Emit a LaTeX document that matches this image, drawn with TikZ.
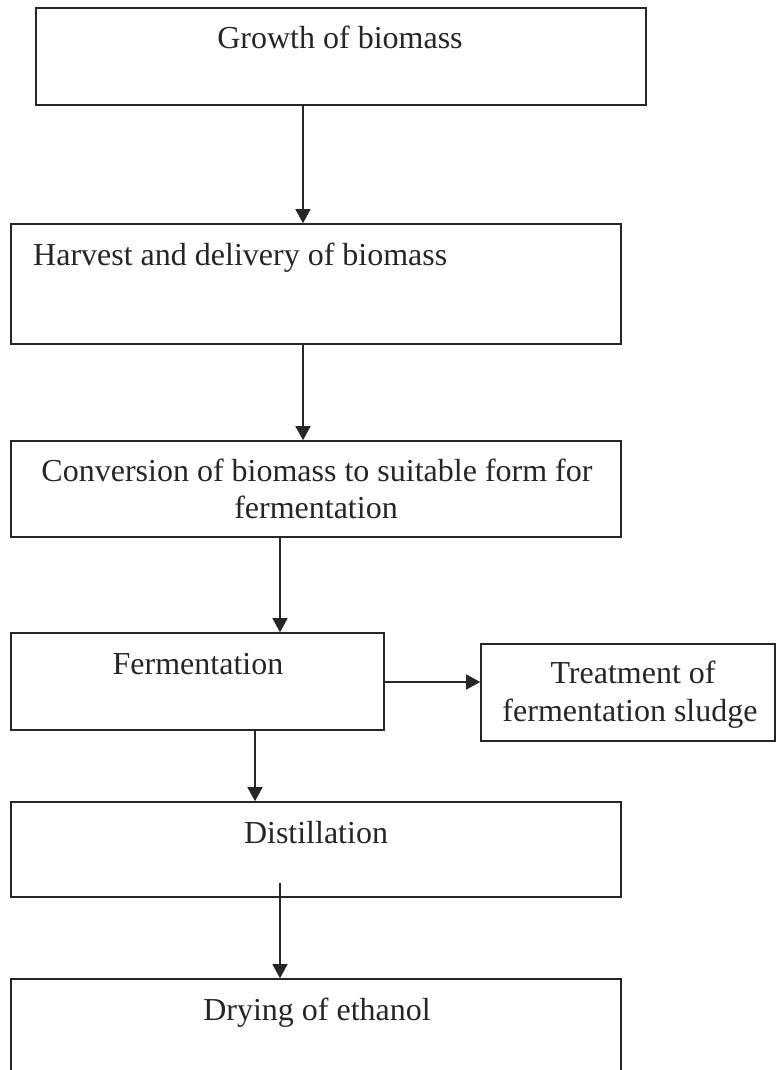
\documentclass[tikz,border=0pt]{standalone}
\usepackage{fontspec}
\setmainfont{Liberation Serif}
\usetikzlibrary{arrows.meta}
\begin{document}
\begin{tikzpicture}[x=1pt,y=-1pt,
  box/.style={draw=black!85, line width=1.6pt, inner sep=0pt, rectangle},
  lbl/.style={inner sep=0pt, anchor=base, text=black!85, font=\fontsize{32}{38}\selectfont},
  arr/.style={draw=black!85, line width=1.4pt, -{Triangle[length=14pt,width=15pt]}}]
\useasboundingbox (0,0) rectangle (777,1070);
\clip (0,0) rectangle (777,1070);
% boxes
\node[box, minimum width=610pt, minimum height=97pt] (b1) at (341,56.5) {};
\node[box, minimum width=610pt, minimum height=120pt] (b2) at (316,284) {};
\node[box, minimum width=610pt, minimum height=96pt] (b3) at (316,489) {};
\node[box, minimum width=373pt, minimum height=97pt] (b4) at (197.5,681.5) {};
\node[box, minimum width=294pt, minimum height=97pt] (b5) at (628,692.5) {};
\node[box, minimum width=610pt, minimum height=95pt] (b6) at (316,849.5) {};
\node[box, minimum width=610pt, minimum height=130pt] (b7) at (316,1044) {};
% texts
\node[lbl] (t1) at (340,49) {Growth of biomass};
\node[lbl, anchor=base west] (t2) at (33,265) {Harvest and delivery of biomass};
\node[lbl] (t3a) at (317,481) {Conversion of biomass to suitable form for};
\node[lbl] (t3b) at (316,518) {fermentation};
\node[lbl] (t4) at (198,674) {Fermentation};
\node[lbl] (t5a) at (633,683) {Treatment of};
\node[lbl] (t5b) at (630,721) {fermentation sludge};
\node[lbl] (t6) at (316,843) {Distillation};
\node[lbl] (t7) at (317,1020) {Drying of ethanol};
% connector x positions
\coordinate (x1) at (303,0);
\coordinate (x3) at (280,0);
\coordinate (x4) at (255,0);
\coordinate (d5) at (280,883);
\coordinate (hy) at (0,682);
% connectors
\draw[arr] (b1.south -| x1) -- (b2.north -| x1);
\draw[arr] (b2.south -| x1) -- (b3.north -| x1);
\draw[arr] (b3.south -| x3) -- (b4.north -| x3);
\draw[arr] (b4.east |- hy) -- (b5.west |- hy);
\draw[arr] (b4.south -| x4) -- (b6.north -| x4);
\draw[arr] (d5) -- (b7.north -| d5);
\end{tikzpicture}
\end{document}
